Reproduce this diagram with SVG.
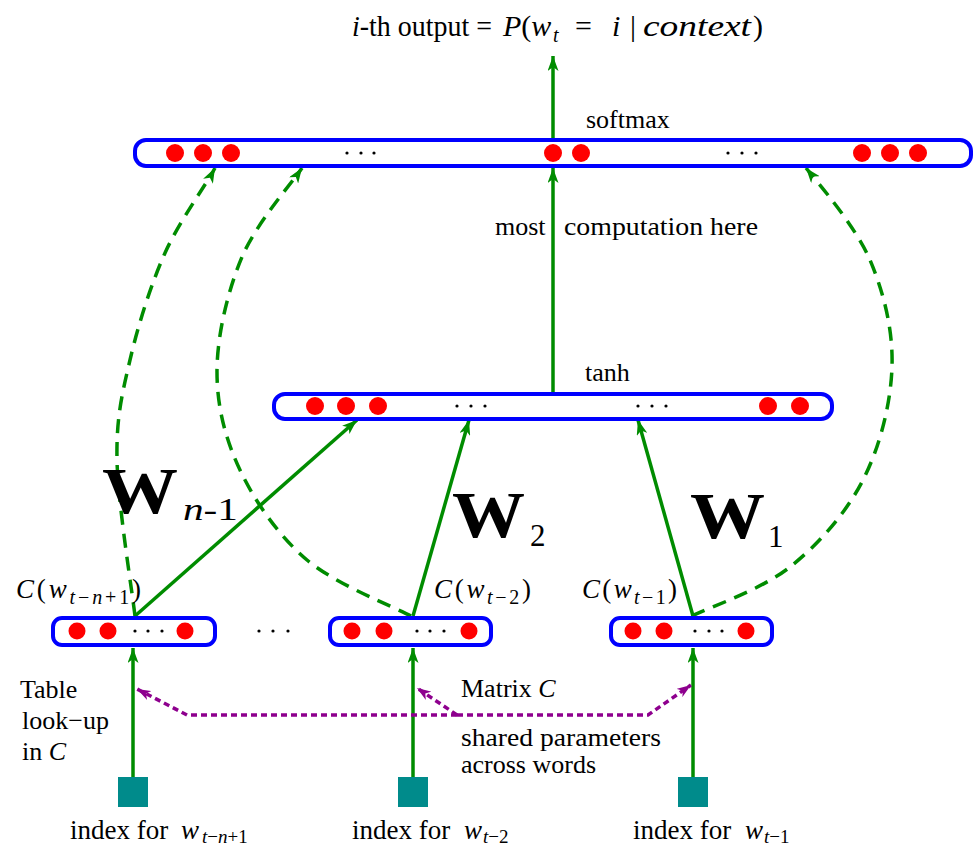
<svg xmlns="http://www.w3.org/2000/svg" width="980" height="848" viewBox="0 0 980 848">
<style>
text { font-family: "Liberation Serif", "DejaVu Serif", serif; fill: #000; }
.it { font-style: italic; }
.bar { fill: #fff; stroke: #0000ff; stroke-width: 4; }
.dot { fill: #ff0000; }
.el { fill: #000; }
.g { fill: none; stroke: #008c00; stroke-width: 3.5; }
.gd { fill: none; stroke: #008c00; stroke-width: 3.5; stroke-dasharray: 14 9; }
.pd { fill: none; stroke: #8e008e; stroke-width: 3.5; stroke-dasharray: 6 4; }
.sq { fill: #008b8b; }
.W { font-size: 66px; font-weight: bold; }
</style>
<defs>
<marker id="ag" viewBox="0 0 15 11" refX="15" refY="5.5" markerWidth="15" markerHeight="11" markerUnits="userSpaceOnUse" orient="auto">
<path d="M0,0 L15,5.5 L0,11 L4,5.5 z" fill="#008c00"/>
</marker>
<marker id="ap" viewBox="0 0 14 10" refX="14" refY="5" markerWidth="14" markerHeight="10" markerUnits="userSpaceOnUse" orient="auto">
<path d="M0,0 L14,5 L0,10 L4,5 z" fill="#8e008e"/>
</marker>
</defs>

<!-- title -->
<g id="title">
<text x="352" y="36" font-size="30" textLength="140" lengthAdjust="spacingAndGlyphs"><tspan class="it">i</tspan>-th output =</text>
<text x="503" y="36" font-size="30"><tspan class="it">P</tspan>(<tspan class="it">w</tspan></text>
<text x="553" y="42" class="it" font-size="20">t</text>
<text x="575" y="36" font-size="30">=</text>
<text x="612" y="36" class="it" font-size="30">i</text>
<text x="630" y="36" font-size="30">|</text>
<text x="643" y="36" class="it" font-size="30" textLength="108" lengthAdjust="spacingAndGlyphs">context</text>
<text x="753" y="36" font-size="30">)</text>
</g>

<!-- connectors -->
<g id="connectors">
<path class="g" d="M553,138 L553,56" marker-end="url(#ag)"/>
<path class="g" d="M553,392 L553,168" marker-end="url(#ag)"/>
<path class="g" d="M135,616 L357,420" marker-end="url(#ag)"/>
<path class="g" d="M413,616 L469,420" marker-end="url(#ag)"/>
<path class="g" d="M693,616 L638,420" marker-end="url(#ag)"/>
<path class="gd" d="M135,616 C132,590 117.8,502.7 117,460 C116.2,417.3 122,394.5 130,360 C138,325.5 150.8,284.7 165,253 C179.2,221.3 206.7,183.8 215,168" marker-end="url(#ag)"/>
<path class="gd" d="M411,616 C393.7,606.7 335.5,584.3 307,560 C278.5,535.7 255,501.7 240,470 C225,438.3 216.7,405.5 217,370 C217.3,334.5 227.8,290.7 242,257 C256.2,223.3 292,182.8 302,168" marker-end="url(#ag)"/>
<path class="gd" d="M692,616 C708.3,607.8 761.5,589.7 790,567 C818.5,544.3 846,513.3 863,480 C880,446.7 890.8,403.7 892,367 C893.2,330.3 884,293.2 870,260 C856,226.8 818.3,183.3 806,168" marker-end="url(#ag)"/>
<path class="g" d="M133,777 L133,648" marker-end="url(#ag)"/>
<path class="g" d="M413,777 L413,648" marker-end="url(#ag)"/>
<path class="g" d="M693,777 L693,648" marker-end="url(#ag)"/>
<path class="pd" d="M457,715 L187,715 L137,689" marker-end="url(#ap)"/>
<path class="pd" d="M457,715 L648,715 L691,685" marker-end="url(#ap)"/>
<path class="pd" d="M457,715 L417,688" marker-end="url(#ap)"/>
</g>

<!-- softmax layer -->
<g id="softmax">
<rect class="bar" x="135" y="140" width="836" height="26" rx="11"/>
<circle class="dot" cx="175" cy="153" r="9"/>
<circle class="dot" cx="203" cy="153" r="9"/>
<circle class="dot" cx="231" cy="153" r="9"/>
<circle class="el" cx="347" cy="153" r="1.6"/>
<circle class="el" cx="361" cy="153" r="1.6"/>
<circle class="el" cx="374" cy="153" r="1.6"/>
<circle class="dot" cx="553" cy="153" r="9"/>
<circle class="dot" cx="581" cy="153" r="9"/>
<circle class="el" cx="728" cy="153" r="1.6"/>
<circle class="el" cx="742" cy="153" r="1.6"/>
<circle class="el" cx="756" cy="153" r="1.6"/>
<circle class="dot" cx="862" cy="153" r="9"/>
<circle class="dot" cx="890" cy="153" r="9"/>
<circle class="dot" cx="918" cy="153" r="9"/>
<text x="586" y="128" font-size="26">softmax</text>
</g>

<g id="note">
<text x="495" y="235" font-size="26">most</text>
<text x="564" y="235" font-size="26" textLength="194" lengthAdjust="spacingAndGlyphs">computation here</text>
</g>

<!-- tanh layer -->
<g id="tanh">
<rect class="bar" x="274" y="394" width="558" height="25" rx="11"/>
<circle class="dot" cx="315" cy="406" r="9"/>
<circle class="dot" cx="346" cy="406" r="9"/>
<circle class="dot" cx="378" cy="406" r="9"/>
<circle class="el" cx="457" cy="406" r="1.6"/>
<circle class="el" cx="471" cy="406" r="1.6"/>
<circle class="el" cx="485" cy="406" r="1.6"/>
<circle class="el" cx="638" cy="406" r="1.6"/>
<circle class="el" cx="652" cy="406" r="1.6"/>
<circle class="el" cx="666" cy="406" r="1.6"/>
<circle class="dot" cx="768" cy="406" r="9"/>
<circle class="dot" cx="800" cy="406" r="9"/>
<text x="585" y="381" font-size="26">tanh</text>
</g>

<!-- weight labels -->
<g id="Wn1">
<text x="102" y="513" class="W" textLength="76" lengthAdjust="spacingAndGlyphs">W</text>
<text x="183" y="520" font-size="32" fill="#222" textLength="55" lengthAdjust="spacingAndGlyphs"><tspan class="it">n</tspan>-1</text>
</g>
<g id="W2">
<text x="452" y="537" class="W" textLength="73" lengthAdjust="spacingAndGlyphs">W</text>
<text x="530" y="546" font-size="31" fill="#222">2</text>
</g>
<g id="W1">
<text x="690" y="538" class="W" textLength="75" lengthAdjust="spacingAndGlyphs">W</text>
<text x="768" y="547" font-size="31" fill="#222">1</text>
</g>

<!-- C boxes -->
<g id="C1">
<rect class="bar" x="53" y="618" width="162" height="27" rx="9"/>
<circle class="dot" cx="77" cy="631" r="8.5"/>
<circle class="dot" cx="108" cy="631" r="8.5"/>
<circle class="el" cx="135" cy="631" r="1.6"/>
<circle class="el" cx="148" cy="631" r="1.6"/>
<circle class="el" cx="162" cy="631" r="1.6"/>
<circle class="dot" cx="185" cy="631" r="8.5"/>
<text x="16" y="598" font-size="27" textLength="125" lengthAdjust="spacing"><tspan class="it">C</tspan>(<tspan class="it">w</tspan><tspan dy="6" font-size="20"><tspan class="it">t</tspan>−<tspan class="it">n</tspan>+1</tspan><tspan dy="-6">)</tspan></text>
</g>
<g id="dotsmid">
<circle class="el" cx="259" cy="631" r="1.6"/>
<circle class="el" cx="273" cy="631" r="1.6"/>
<circle class="el" cx="288" cy="631" r="1.6"/>
</g>
<g id="C2">
<rect class="bar" x="330" y="618" width="161" height="27" rx="9"/>
<circle class="dot" cx="352" cy="631" r="8.5"/>
<circle class="dot" cx="384" cy="631" r="8.5"/>
<circle class="el" cx="417" cy="631" r="1.6"/>
<circle class="el" cx="430" cy="631" r="1.6"/>
<circle class="el" cx="444" cy="631" r="1.6"/>
<circle class="dot" cx="469" cy="631" r="8.5"/>
<text x="434" y="598" font-size="27" textLength="97" lengthAdjust="spacing"><tspan class="it">C</tspan>(<tspan class="it">w</tspan><tspan dy="6" font-size="20"><tspan class="it">t</tspan>−2</tspan><tspan dy="-6">)</tspan></text>
</g>
<g id="C3">
<rect class="bar" x="611" y="618" width="161" height="27" rx="9"/>
<circle class="dot" cx="633" cy="631" r="8.5"/>
<circle class="dot" cx="664" cy="631" r="8.5"/>
<circle class="el" cx="695" cy="631" r="1.6"/>
<circle class="el" cx="709" cy="631" r="1.6"/>
<circle class="el" cx="722" cy="631" r="1.6"/>
<circle class="dot" cx="746" cy="631" r="8.5"/>
<text x="582" y="598" font-size="27" textLength="95" lengthAdjust="spacing"><tspan class="it">C</tspan>(<tspan class="it">w</tspan><tspan dy="6" font-size="20"><tspan class="it">t</tspan>−1</tspan><tspan dy="-6">)</tspan></text>
</g>

<!-- side labels -->
<g id="lookup">
<text x="20" y="698" font-size="26">Table</text>
<text x="22" y="729" font-size="26">look−up</text>
<text x="22" y="760" font-size="26">in <tspan class="it">C</tspan></text>
</g>
<g id="matrix">
<text x="461" y="697" font-size="26">Matrix <tspan class="it">C</tspan></text>
<text x="461" y="746" font-size="26" textLength="200" lengthAdjust="spacingAndGlyphs">shared parameters</text>
<text x="461" y="773" font-size="26">across words</text>
</g>

<!-- inputs -->
<g id="in1">
<rect class="sq" x="118" y="777" width="30" height="30"/>
<text x="70" y="839" font-size="27">index for</text>
<text x="181" y="839" class="it" font-size="27">w</text>
<text x="202" y="843" font-size="19"><tspan class="it">t</tspan>−<tspan class="it">n</tspan>+1</text>
</g>
<g id="in2">
<rect class="sq" x="398" y="777" width="30" height="30"/>
<text x="352" y="839" font-size="27">index for</text>
<text x="464" y="839" class="it" font-size="27">w</text>
<text x="483" y="843" font-size="19"><tspan class="it">t</tspan>−2</text>
</g>
<g id="in3">
<rect class="sq" x="678" y="777" width="30" height="30"/>
<text x="633" y="839" font-size="27">index for</text>
<text x="745" y="839" class="it" font-size="27">w</text>
<text x="764" y="843" font-size="19"><tspan class="it">t</tspan>−1</text>
</g>
</svg>
